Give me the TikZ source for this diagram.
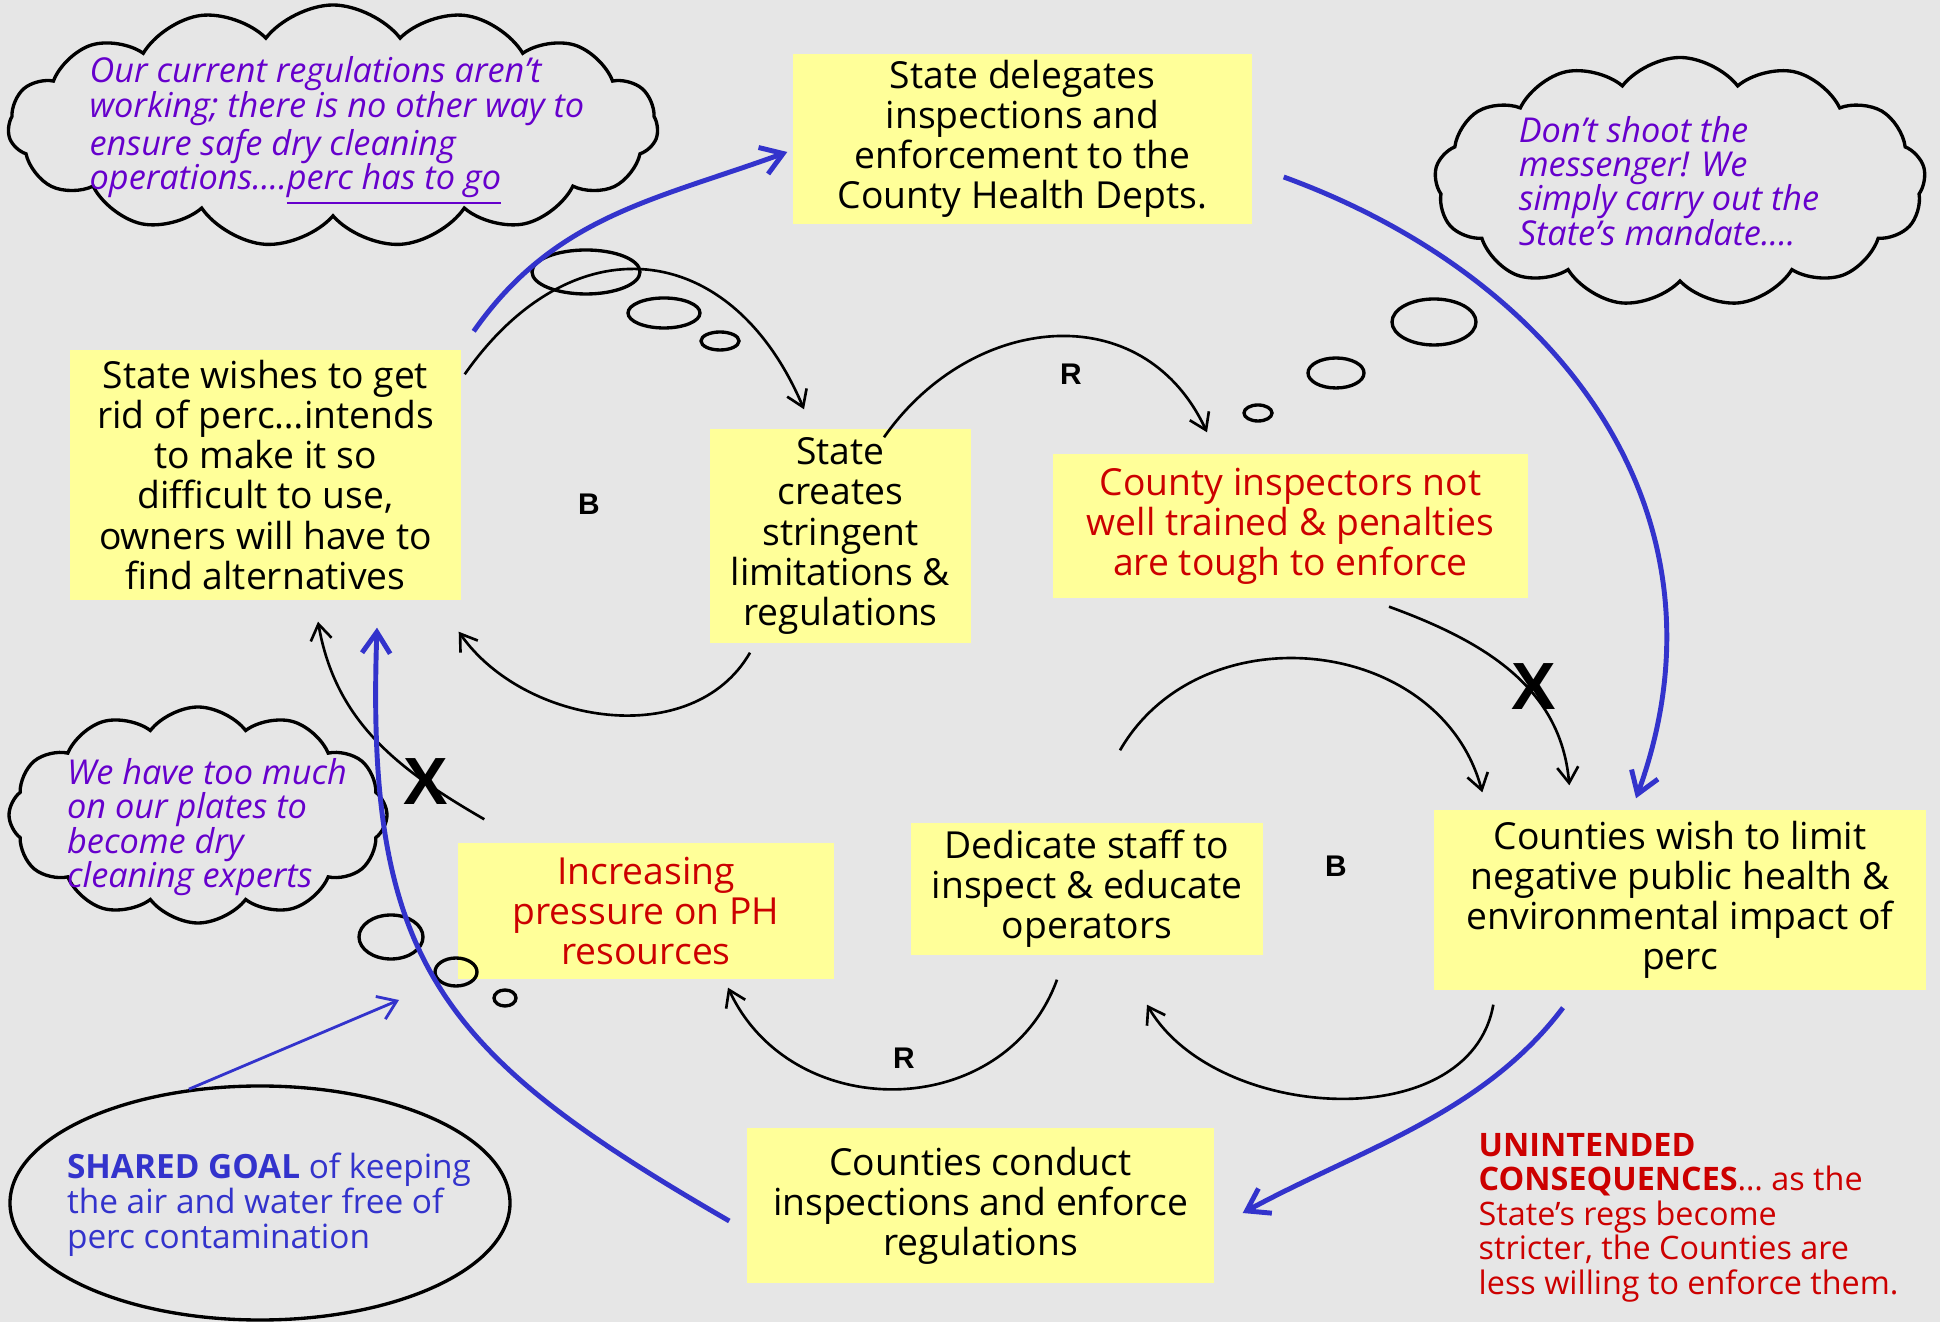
\documentclass[tikz,border=0pt]{standalone}
\usepackage{fontspec}
\usepackage{xcolor}
\usetikzlibrary{shapes.symbols,shapes.geometric,arrows.meta}
\setmainfont{Open Sans}
\newfontfamily\labelfont{Liberation Sans}
\definecolor{noteYellow}{RGB}{255,255,153}
\definecolor{paperGray}{RGB}{230,230,230}
\definecolor{loopBlue}{RGB}{51,51,204}
\definecolor{thinkPurple}{RGB}{102,0,204}
\definecolor{warnRed}{RGB}{204,0,0}

\begin{document}
\begin{tikzpicture}
            \tikzstyle{note} = [fill=noteYellow, align=center, inner sep=0pt, font=\fontsize{10.6}{11.4}\selectfont]
            \tikzstyle{thought} = [draw, line width=0.95pt, cloud, cloud ignores aspect, cloud puff arc=105]
            \tikzstyle{bubble} = [draw, line width=0.95pt]
            \tikzstyle{musing} = [align=left, inner sep=0pt, text=thinkPurple, font=\fontsize{9.75}{9.8}\selectfont\itshape]
            \tikzstyle{looplabel} = [font=\labelfont\bfseries\fontsize{8.5}{9}\selectfont]
            \tikzstyle{cross} = [font=\labelfont\bfseries\fontsize{19}{19}\selectfont]
            \tikzstyle{arrow} = [-{Straight Barb[length=4.5pt,width=6pt]}, line width=0.75pt]
            \tikzstyle{bluearrow} = [-{Straight Barb[length=6pt,width=8pt]}, line width=1.4pt, loopBlue]

            % background paper
            \fill[paperGray] (0,0) rectangle (19.40,13.22);
            \useasboundingbox (0,0) rectangle (19.40,13.22);

            % boxes
            \node[note, minimum width=4.59cm, minimum height=1.70cm] (delegates) at (10.225,11.83) {State delegates\\inspections and\\enforcement to the\\County Health Depts.};
            \node[note, minimum width=3.91cm, minimum height=2.50cm] (wishes) at (2.655,8.47) {State wishes to get\\rid of perc\ldots intends\\to make it so\\difficult to use,\\owners will have to\\find alternatives};
            \node[note, minimum width=2.61cm, minimum height=2.14cm] (creates) at (8.405,7.86) {State\\creates\\stringent\\limitations \&\\regulations};
            \node[note, text=warnRed, minimum width=4.75cm, minimum height=1.44cm] (inspectors) at (12.905,7.96) {County inspectors not\\well trained \& penalties\\are tough to enforce};
            \node[note, minimum width=3.52cm, minimum height=1.32cm] (dedicate) at (10.87,4.33) {Dedicate staff to\\inspect \& educate\\operators};
            \node[note, text=warnRed, minimum width=3.76cm, minimum height=1.36cm] (pressure) at (6.46,4.11) {Increasing\\pressure on PH\\resources};
            \node[note, minimum width=4.92cm, minimum height=1.80cm] (limit) at (16.80,4.22) {Counties wish to limit\\negative public health \&\\environmental impact of\\perc};
            \node[note, minimum width=4.67cm, minimum height=1.55cm] (conduct) at (9.805,1.165) {Counties conduct\\inspections and enforce\\regulations};

            % thought clouds
            \node[thought, cloud puffs=15, minimum width=6.50cm, minimum height=2.42cm] (cloudState) at (3.33,11.96) {};
            \node[musing] (sayState) at (3.37,11.91) {Our current regulations aren’t\\working; there is no other way to\\ensure safe dry cleaning\\operations....\underline{perc has to go}};
            \node[thought, cloud puffs=13, minimum width=4.91cm, minimum height=2.49cm] (cloudCounty) at (16.80,11.40) {};
            \node[musing] (sayCounty) at (16.69,11.41) {Don’t shoot the\\messenger! We\\simply carry out the\\State’s mandate....};
            \node[thought, cloud puffs=12, minimum width=3.78cm, minimum height=2.16cm] (cloudStaff) at (1.98,5.07) {};
            \node[musing] (sayStaff) at (2.07,4.95) {We have too much\\on our plates to\\become dry\\cleaning experts};

            % thought bubbles
            \draw[bubble] (5.86,10.50) ellipse (0.54 and 0.22);
            \draw[bubble] (6.64,10.09) ellipse (0.36 and 0.15);
            \draw[bubble] (7.20,9.81) ellipse (0.19 and 0.09);
            \draw[bubble] (14.34,10.00) ellipse (0.42 and 0.23);
            \draw[bubble] (13.36,9.49) ellipse (0.28 and 0.15);
            \draw[bubble] (12.58,9.09) ellipse (0.14 and 0.08);
            \draw[bubble] (3.91,3.85) ellipse (0.32 and 0.22);
            \draw[bubble] (4.56,3.50) ellipse (0.21 and 0.14);
            \draw[bubble] (5.05,3.24) ellipse (0.11 and 0.08);

            % shared goal
            \node[draw, ellipse, line width=0.95pt, minimum width=5.00cm, minimum height=2.34cm] (goal) at (2.60,1.19) {};
            \node[align=left, inner sep=0pt, text=loopBlue, font=\fontsize{9.5}{9.9}\selectfont] (goaltext) at (2.69,1.17) {\textbf{SHARED GOAL} of keeping\\the air and water free of\\perc contamination};
            \coordinate (goaltip) at (3.99,3.22);
            \draw[-{Straight Barb[length=5pt,width=7pt]}, line width=0.8pt, loopBlue] (goal.122) -- (goaltip);

            % unintended consequences
            \node[anchor=west, align=left, inner sep=0pt, text=warnRed, font=\fontsize{9.2}{9.8}\selectfont] (unintended) at (14.78,1.045) {\textbf{UNINTENDED}\\\textbf{CONSEQUENCES}\ldots\ as the\\State’s regs become\\stricter, the Counties are\\less willing to enforce them.};

            % loop labels
            \node[looplabel] (loopB1) at (5.89,8.18) {B};
            \node[looplabel] (loopR1) at (10.71,9.48) {R};
            \node[looplabel] (loopB2) at (13.36,4.56) {B};
            \node[looplabel] (loopR2) at (9.04,2.64) {R};

            % black links
            \draw[arrow] ([shift={(0.03,-0.25)}]wishes.north east) to[out=55, in=113, looseness=1.4] ([shift={(-0.365,0.19)}]creates.north);
            \draw[arrow] ([shift={(-0.905,-0.09)}]creates.south) to[out=240, in=-55] ([shift={(-0.03,-0.31)}]wishes.south east);
            \draw[arrow] ([shift={(0.435,-0.09)}]creates.north) to[out=55, in=115, looseness=1.2] ([shift={(-0.835,0.21)}]inspectors.north);
            \draw[arrow] ([shift={(0.985,-0.08)}]inspectors.south) to[out=-20, in=95] ([shift={(1.36,0.24)}]limit.north west);
            \draw[arrow] ([shift={(0.33,0.72)}]dedicate.north) to[out=60, in=105, looseness=1.14] ([shift={(0.49,0.17)}]limit.north west);
            \draw[arrow] ([shift={(0.60,-0.14)}]limit.south west) to[out=-100, in=-60] ([shift={(0.60,-0.49)}]dedicate.south);
            \draw[arrow] ([shift={(-0.30,-0.24)}]dedicate.south) to[out=-110, in=-65, looseness=1.18] ([shift={(0.82,-0.08)}]pressure.south);
            \draw[arrow] ([shift={(0.27,0.23)}]pressure.north west) to[out=150, in=-80] ([shift={(0.525,-0.21)}]wishes.south);

            % blue links
            \draw[bluearrow] ([shift={(0.12,0.18)}]wishes.north east) to[out=55, in=200] ([shift={(-0.05,-0.13)}]delegates.west);
            \draw[bluearrow] ([shift={(0.31,-0.38)}]delegates.east) to[out=-20, in=70, looseness=1.07] ([shift={(-0.44,0.11)}]limit.north);
            \draw[bluearrow] ([shift={(-1.17,-0.17)}]limit.south) to[out=233, in=28.5, looseness=0.9] ([shift={(0.28,-0.075)}]conduct.east);
            \draw[bluearrow] ([shift={(-0.17,-0.155)}]conduct.west) to[out=150, in=-92, looseness=1.24] ([shift={(1.115,-0.27)}]wishes.south);

            % crossed-out links
            \node[cross] (crossLeft) at (4.26,5.40) {X};
            \node[cross] (crossRight) at (15.34,6.35) {X};
        \end{tikzpicture}
\end{document}
